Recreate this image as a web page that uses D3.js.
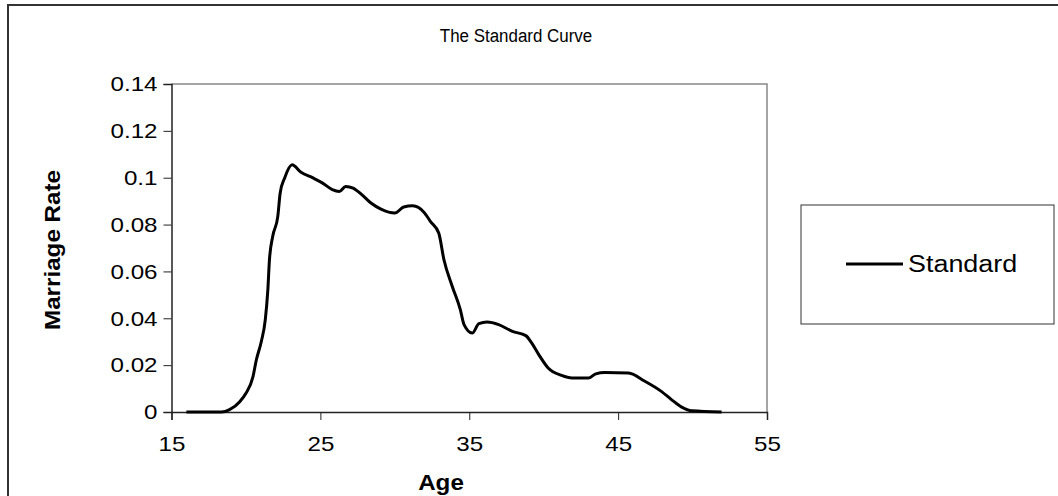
<!DOCTYPE html>
<html>
<head>
<meta charset="utf-8">
<script src="https://cdn.jsdelivr.net/npm/d3@7"></script>
<style>
  body { margin: 0; background: #fff; }
  svg { font-family: "Liberation Sans", Arial, sans-serif; }
</style>
</head>
<body>
<svg width="1058" height="496"></svg>
<script>
// ages and rates
const ages = [16.0, 18.35, 18.9, 19.6, 20.0, 20.47, 20.7, 21.03, 21.3, 21.47, 21.58, 21.8, 22.14, 22.3, 22.6, 23.1,
  23.7, 24.5, 25.15, 25.8, 26.27, 26.7, 27.2, 27.8, 28.4, 29.07, 30.0, 30.6, 31.2, 31.97, 32.4, 32.95,
  33.3, 33.86, 34.4, 34.65, 35.2, 35.65, 36.2, 36.98, 37.9, 38.8, 39.2, 39.67, 40.3, 41.2, 41.9, 43.0,
  43.5, 44.1, 45.7, 46.8, 47.9, 48.6, 49.27, 49.94, 51.95];
const rates = [0, 0, 0.001, 0.0045, 0.008, 0.015, 0.0223, 0.030, 0.0394, 0.052, 0.065, 0.075, 0.0835, 0.0935, 0.0999, 0.1055,
  0.1023, 0.0999, 0.0977, 0.0949, 0.0941, 0.0963, 0.0956, 0.0927, 0.0892, 0.0866, 0.0849, 0.0875, 0.088, 0.0852, 0.0813, 0.0764,
  0.065, 0.0536, 0.0437, 0.0373, 0.0337, 0.0377, 0.0384, 0.0373, 0.0344, 0.0326, 0.0294, 0.0245, 0.0188, 0.0156, 0.0145, 0.0145,
  0.0163, 0.0169, 0.0166, 0.0131, 0.0088, 0.0052, 0.0021, 0.0005, 0];

const xTicks = [15, 25, 35, 45, 55];
const yTicks = [0, 0.02, 0.04, 0.06, 0.08, 0.1, 0.12, 0.14];
const seriesName = "Standard";

const svg = d3.select("svg");

// the source chart's text renders a bit wider than Liberation Sans
function stretch(sel, k) {
  sel.each(function() {
    const w = this.getComputedTextLength();
    d3.select(this).attr("textLength", w * k).attr("lengthAdjust", "spacingAndGlyphs");
  });
}

// outer chart frame (right and bottom edges cut off)
svg.append("path")
  .attr("d", "M8,496V5H1058")
  .attr("fill", "none")
  .attr("stroke", "#333")
  .attr("stroke-width", 2);

const pLeft = 171.5, pRight = 767, pTop = 84, pBottom = 412;

const xs = d3.scaleLinear().domain([15, 55]).range([pLeft, pRight]);
const ys = d3.scaleLinear().domain([0, 0.14]).range([pBottom, pTop]);

// plot area border (top and right in gray)
svg.append("path")
  .attr("d", `M${pLeft},${pTop}H${pRight}V${pBottom}`)
  .attr("fill", "none")
  .attr("stroke", "#888")
  .attr("stroke-width", 1.5);

const yAxis = svg.append("g")
  .attr("transform", `translate(${pLeft},0)`)
  .call(d3.axisLeft(ys).tickValues(yTicks).tickSizeOuter(0).tickSize(8).tickPadding(6)
    .tickFormat(d => String(+d.toFixed(2))));

const xAxis = svg.append("g")
  .attr("transform", `translate(0,${pBottom})`)
  .call(d3.axisBottom(xs).tickValues(xTicks).tickSizeOuter(0).tickSize(8).tickPadding(16));

[xAxis, yAxis].forEach(a => {
  a.select(".domain").attr("stroke", "#222").attr("stroke-width", 1.5);
  a.selectAll(".tick line").attr("stroke", "#222").attr("stroke-width", 1);
  a.selectAll("text")
    .attr("font-family", "Liberation Sans, Arial, sans-serif")
    .attr("font-size", 21)
    .attr("fill", "#000")
    .call(stretch, 1.15);
});

const line = d3.line()
  .x((d, i) => xs(ages[i]))
  .y(d => ys(d))
  .curve(d3.curveMonotoneX);

svg.append("path")
  .datum(rates)
  .attr("fill", "none")
  .attr("stroke", "#000")
  .attr("stroke-width", 3)
  .attr("stroke-linejoin", "round")
  .attr("d", line);

// title
svg.append("text")
  .attr("x", 516)
  .attr("y", 42)
  .attr("text-anchor", "middle")
  .attr("font-size", 18)
  .text("The Standard Curve")
  .call(stretch, 0.94);

// axis titles
svg.append("text")
  .attr("x", 441)
  .attr("y", 490)
  .attr("text-anchor", "middle")
  .attr("font-size", 22)
  .attr("font-weight", "bold")
  .text("Age")
  .call(stretch, 1.1);

svg.append("text")
  .attr("transform", "translate(60,250) rotate(-90)")
  .attr("text-anchor", "middle")
  .attr("font-size", 22)
  .attr("font-weight", "bold")
  .text("Marriage Rate")
  .call(stretch, 1.1);

// legend
const lg = svg.append("g").attr("transform", "translate(801,205)");
lg.append("rect")
  .attr("width", 253).attr("height", 119)
  .attr("fill", "#fff").attr("stroke", "#333").attr("stroke-width", 1);
lg.append("line")
  .attr("x1", 45).attr("x2", 102).attr("y1", 59).attr("y2", 59)
  .attr("stroke", "#000").attr("stroke-width", 3);
lg.append("text")
  .attr("x", 107).attr("y", 67)
  .attr("font-size", 23)
  .text(seriesName)
  .call(stretch, 1.17);
</script>
</body>
</html>
